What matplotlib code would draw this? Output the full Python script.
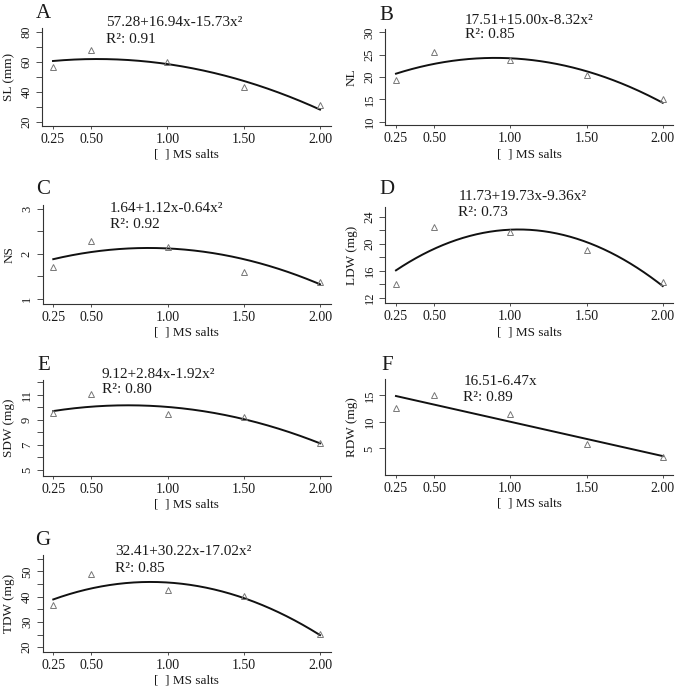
import numpy as np
import matplotlib
matplotlib.use("Agg")
import matplotlib.pyplot as plt

plt.rcParams['font.family'] = ['Liberation Serif', 'DejaVu Serif']

W, H = 675, 696
x_vals = [0.25, 0.50, 1.00, 1.50, 2.00]
x_ticklabels = ["0.25", "0.50", "1.00", "1.50", "2.00"]

# observed points
sl = [56.8, 67.8, 59.6, 43.0, 31.0]
nl = [19.3, 25.5, 23.8, 20.5, 15.0]
ns = [1.70, 2.28, 2.16, 1.60, 1.38]
ldw = [14.0, 22.5, 21.7, 19.1, 14.4]
sdw = [9.53, 11.05, 9.50, 9.26, 7.16]
rdw = [12.7, 15.0, 11.5, 5.9, 3.45]
tdw = [36.5, 48.9, 42.8, 40.3, 25.4]

# regression coefficients (intercept, linear, quadratic)
coef_sl = [57.28, 16.94, -15.73]
coef_nl = [17.51, 15.00, -8.32]
coef_ns = [1.64, 1.12, -0.64]
coef_ldw = [11.73, 19.73, -9.36]
coef_sdw = [9.12, 2.84, -1.92]
coef_rdw = [16.51, -6.47, 0.0]
coef_tdw = [32.41, 30.22, -17.02]

eq_texts = ["57.28+16.94x-15.73x²", "17.51+15.00x-8.32x²", "1.64+1.12x-0.64x²",
            "11.73+19.73x-9.36x²", "9.12+2.84x-1.92x²", "16.51-6.47x",
            "32.41+30.22x-17.02x²"]
r2_texts = ["R²: 0.91", "R²: 0.85", "R²: 0.92", "R²: 0.73", "R²: 0.80",
            "R²: 0.89", "R²: 0.85"]
letters = ["A", "B", "C", "D", "E", "F", "G"]
ylabels = ["SL (mm)", "NL", "NS", "LDW (mg)", "SDW (mg)", "RDW (mg)", "TDW (mg)"]

panels = [
    (sl, coef_sl, (42.3, 330.7, 28.1, 125.6), (17.6, 82.4), [20, 40, 60, 80], [30, 50, 70], (43, 13), (106, 22.7, 39.3)),
    (nl, coef_nl, (385.3, 673.4, 28.7, 125.3), (9.2, 30.8), [10, 15, 20, 25, 30], [], (386.7, 15), (465, 20, 35)),
    (ns, coef_ns, (42.6, 330.7, 204.5, 304.0), (0.88, 3.1), [1, 2, 3], [1.5, 2.5], (43.3, 189), (110, 208.3, 225)),
    (ldw, coef_ldw, (385.3, 673.4, 206.7, 303.3), (11.2, 25.5), [12, 16, 20, 24], [14, 18, 22], (386.7, 190), (458.3, 196.7, 212.3)),
    (sdw, coef_sdw, (42.6, 330.7, 380.0, 476.0), (4.5, 12.2), [5, 7, 9, 11], [6, 8, 10, 12], (43.3, 365), (101.7, 374, 390)),
    (rdw, coef_rdw, (385.3, 673.4, 379.0, 475.0), (0.0, 18.1), [5, 10, 15], [], (386.7, 365), (463.3, 381.7, 397.3)),
    (tdw, coef_tdw, (42.6, 330.7, 555.0, 651.7), (18.2, 56.5), [20, 30, 40, 50], [25, 35, 45, 55], (43, 540.7), (115, 551.7, 568.3)),
]

fig = plt.figure(figsize=(W / 100, H / 100), dpi=100)
tc = '#1a1a1a'

for i, (data, coef, box, ylim, majt, mint, lpos, epos) in enumerate(panels):
    l, r, t, b = box
    ax = fig.add_axes([l / W, 1 - b / H, (r - l) / W, (b - t) / H])
    ax.set_xlim(0.18, 2.07)
    ax.set_ylim(*ylim)
    xs = np.linspace(0.25, 2.0, 200)
    ys = coef[0] + coef[1] * xs + coef[2] * xs ** 2
    ax.plot(xs, ys, color='#111111', lw=1.4)
    ax.plot(x_vals, data, linestyle='none', marker='^', markersize=5,
            markerfacecolor='none', markeredgecolor='#777777', markeredgewidth=0.7)
    for s in ['top', 'right']:
        ax.spines[s].set_visible(False)
    for s in ['left', 'bottom']:
        ax.spines[s].set_color('#333333')
        ax.spines[s].set_linewidth(0.8)
    ax.set_xticks(x_vals)
    ax.set_xticklabels(x_ticklabels, fontsize=10, color=tc)
    ax.tick_params(axis='x', length=2, width=0.6, pad=3, colors='#333333', labelcolor=tc)
    ax.set_yticks(majt)
    ax.set_yticklabels([str(v) for v in majt], fontsize=9, rotation=90, va='center', color=tc)
    ax.set_yticks(mint, minor=True)
    ax.tick_params(axis='y', which='both', length=4, width=0.6, pad=3, colors='#333333', labelcolor=tc)
    ax.set_xlabel("[  ] MS salts", fontsize=9.5, color=tc, labelpad=2)
    ax.set_ylabel(ylabels[i], fontsize=9.5, color=tc, labelpad=4)
    fig.text(lpos[0] / W, 1 - lpos[1] / H, letters[i], fontsize=15, ha='center', va='center', color=tc)
    fig.text(epos[0] / W, 1 - epos[1] / H, eq_texts[i], fontsize=11, ha='left', va='center', color=tc)
    fig.text(epos[0] / W, 1 - epos[2] / H, r2_texts[i], fontsize=11, ha='left', va='center', color=tc)

fig.savefig("out.png", dpi=100)
